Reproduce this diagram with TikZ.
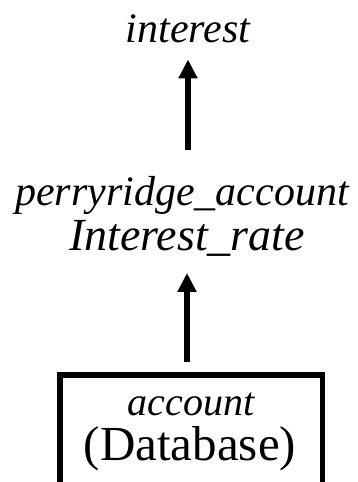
\documentclass[tikz,border=0pt]{standalone}
\usepackage{fontspec}
\setmainfont{Liberation Serif}
\usetikzlibrary{arrows.meta}
\begin{document}
\begin{tikzpicture}[x=1pt,y=1pt,
  lbl/.style={inner sep=0pt, outer sep=0pt, anchor=base},
  arr/.style={line width=6pt, -{Triangle[length=19pt,width=18pt]}},
  boxst/.style={draw, line width=5.5pt, inner sep=0pt, outer sep=0pt, minimum width=262.5pt, minimum height=120pt}]
\path[use as bounding box, clip] (0,0) rectangle (357,-482);
\node[lbl, font=\fontsize{42}{42}\selectfont\itshape] (int) at (188,-42) {interest};
\node[lbl, font=\fontsize{42}{42}\selectfont\itshape] (pr) at (182,-205) {perryridge\_account};
\node[lbl, font=\fontsize{46}{46}\selectfont\itshape] (ir) at (187,-250) {Interest\_rate};
\node[boxst] (box) at (191,-434.75) {};
\node[lbl, font=\fontsize{40}{40}\selectfont\itshape] (acc) at (191,-415) {account};
\node[lbl, font=\fontsize{49}{49}\selectfont] (db) at (190,-460) {(Database)};
\draw[arr, shorten <=26pt, shorten >=17pt] (int.south |- pr.north) -- (int.south);
\draw[arr, shorten <=12.75pt, shorten >=17pt] (ir.south |- box.north) -- (ir.south);
\end{tikzpicture}
\end{document}
